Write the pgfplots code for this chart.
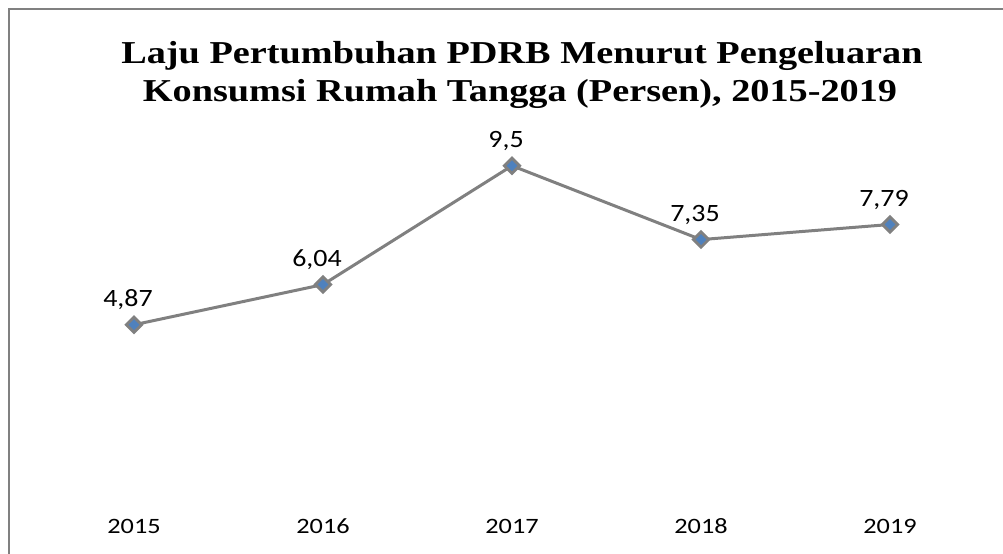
\documentclass[border=0pt]{standalone}
\usepackage{fontspec}
\setmainfont{Carlito}
\newfontfamily\titlefont[FakeStretch=1.2]{Liberation Serif}
\newfontfamily\tickfont[FakeStretch=1.2]{Carlito}
\newfontfamily\labelfont[FakeStretch=1.12]{Carlito}
\usepackage{pgfplots}
\pgfplotsset{compat=1.18}
\definecolor{linegray}{RGB}{128,128,128}
\definecolor{markblue}{RGB}{79,129,189}
\begin{document}
\begin{tikzpicture}
\useasboundingbox (-134bp,-62bp) rectangle (869bp,492bp);
\begin{axis}[
  at={(0,0)}, anchor=origin,
  x=189bp, y=34.34bp,
  xmin=-0.5, xmax=4.5, ymin=0, ymax=10,
  axis line style={draw=none},
  major tick length=0pt,
  ytick=\empty,
  xtick={0,1,2,3,4},
  xticklabels={2015,2016,2017,2018,2019},
  xticklabel style={anchor=base, yshift=-41bp, font=\tickfont\fontsize{22}{25}\selectfont},
  clip=false,
  nodes near coords,
  point meta=explicit symbolic,
  every node near coord/.append style={anchor=base, yshift=18bp, xshift=-6bp, font=\labelfont\fontsize{25}{28}\selectfont, text=black},
]
\addplot[color=linegray, line width=3bp, mark=square*, mark size=5.4bp,
  mark options={rotate=45, fill=markblue, draw=linegray, line width=2.8bp}]
  coordinates {(0,4.87)[4,87] (1,6.04)[6,04] (2,9.5)[9,5] (3,7.35)[7,35] (4,7.79)[7,79]};
\end{axis}
\draw[linegray, line width=1.2bp] (-125bp,-62bp) -- (-125bp,483bp) -- (869bp,483bp);
\node[anchor=base, font=\titlefont\bfseries\fontsize{32}{38}\selectfont] at (388bp,428bp) {Laju Pertumbuhan PDRB Menurut Pengeluaran};
\node[anchor=base, font=\titlefont\bfseries\fontsize{32}{38}\selectfont] at (386bp,390bp) {Konsumsi Rumah Tangga (Persen), 2015-2019};
\end{tikzpicture}
\end{document}
